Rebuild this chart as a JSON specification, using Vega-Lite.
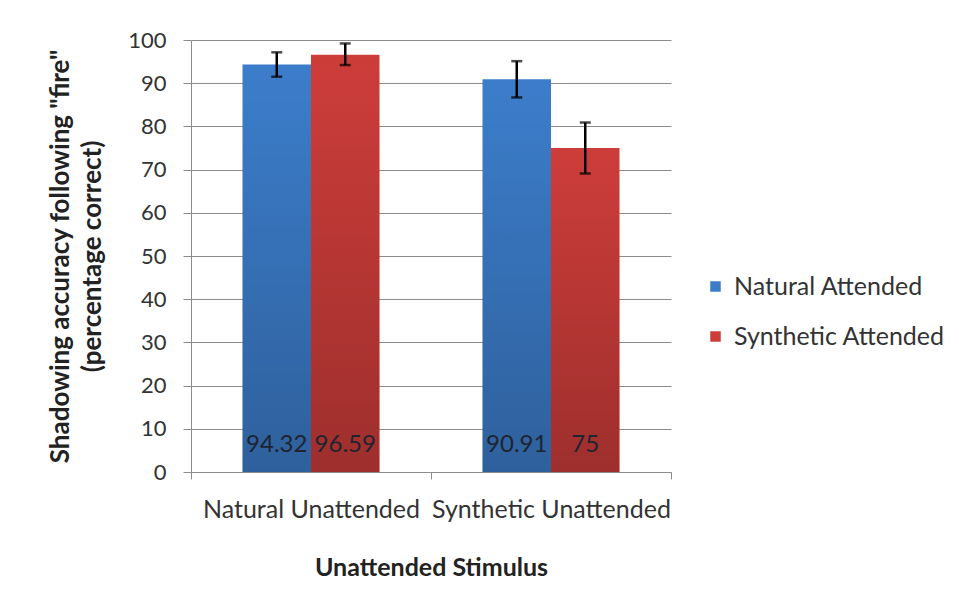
{
  "$schema": "https://vega.github.io/schema/vega-lite/v6.json",
  "width": 480,
  "height": 432,
  "autosize": "none",
  "padding": {"left": 191, "top": 40, "right": 288, "bottom": 137},
  "background": "white",
  "config": {
    "font": "Lato",
    "view": {"stroke": null},
    "axis": {"labelFont": "Lato", "titleFont": "Lato", "labelColor": "#333333", "titleColor": "#222222", "domainColor": "#8c8c8c", "tickColor": "#8c8c8c", "gridColor": "#8c8c8c", "domainWidth": 1, "tickWidth": 1, "gridWidth": 1, "labelLimit": 0}
  },
  "data": {
    "values": [
      {"stimulus": "Natural Unattended", "attended": "Natural Attended", "value": 94.32, "lo": 91.5, "hi": 97.15},
      {"stimulus": "Natural Unattended", "attended": "Synthetic Attended", "value": 96.59, "lo": 94.2, "hi": 99.2},
      {"stimulus": "Synthetic Unattended", "attended": "Natural Attended", "value": 90.91, "lo": 86.7, "hi": 95.1},
      {"stimulus": "Synthetic Unattended", "attended": "Synthetic Attended", "value": 75, "lo": 69.1, "hi": 80.9}
    ]
  },
  "encoding": {
    "x": {
      "field": "stimulus", "type": "nominal",
      "scale": {"paddingInner": 0, "paddingOuter": 0},
      "axis": {
        "title": "Unattended Stimulus", "titleFontSize": 25, "titleFontWeight": "bold", "titlePadding": 33,
        "labelAngle": 0, "labelFontSize": 25, "labelPadding": 18, "tickSize": 7, "tickBand": "extent", "grid": false
      }
    },
    "xOffset": {"field": "attended", "type": "nominal", "scale": {"paddingInner": 0, "paddingOuter": 0.752}}
  },
  "layer": [
    {
      "mark": {"type": "bar"},
      "encoding": {
        "y": {
          "field": "value", "type": "quantitative",
          "scale": {"domain": [0, 100]},
          "axis": {
            "title": ["Shadowing accuracy following \"fire\"", "(percentage correct)"],
            "titleFontSize": 26, "titleFontWeight": "bold", "titleLineHeight": 32, "titlePadding": 22,
            "labelFontSize": 22, "labelPadding": 17, "tickSize": 8, "values": [0,10,20,30,40,50,60,70,80,90,100], "grid": true
          }
        },
        "color": {
          "field": "attended", "type": "nominal",
          "scale": {"domain": ["Natural Attended", "Synthetic Attended"], "range": ["#3c7dcb", "#cd3d3a"]},
          "legend": {
            "title": null, "orient": "none", "legendX": 512, "legendY": 234,
            "symbolType": "square", "symbolSize": 110, "symbolStrokeWidth": 0, "symbolOpacity": 1,
            "labelFontSize": 25, "labelColor": "#333333", "labelFont": "Lato", "labelLimit": 0, "rowPadding": 24, "labelOffset": 6, "padding": 0
          }
        }
      }
    },
    {
      "mark": {
        "type": "bar",
        "color": {"gradient": "linear", "x1": 0, "y1": 0, "x2": 0, "y2": 1, "stops": [{"offset": 0, "color": "rgba(0,0,0,0)"}, {"offset": 1, "color": "rgba(0,0,0,0.23)"}]}
      },
      "encoding": {"y": {"field": "value", "type": "quantitative"}}
    },
    {
      "mark": {"type": "rule", "color": "black", "strokeWidth": 2.5},
      "encoding": {"y": {"field": "lo", "type": "quantitative"}, "y2": {"field": "hi"}}
    },
    {
      "mark": {"type": "tick", "color": "black", "thickness": 2.5, "size": 11, "orient": "horizontal"},
      "encoding": {"y": {"field": "lo", "type": "quantitative"}}
    },
    {
      "mark": {"type": "tick", "color": "black", "thickness": 2.5, "size": 11, "orient": "horizontal"},
      "encoding": {"y": {"field": "hi", "type": "quantitative"}}
    },
    {
      "mark": {"type": "text", "fontSize": 24, "font": "Lato", "color": "#1e2430", "baseline": "bottom", "dy": -15},
      "encoding": {"y": {"datum": 0, "type": "quantitative"}, "text": {"field": "value", "type": "quantitative"}}
    }
  ]
}
